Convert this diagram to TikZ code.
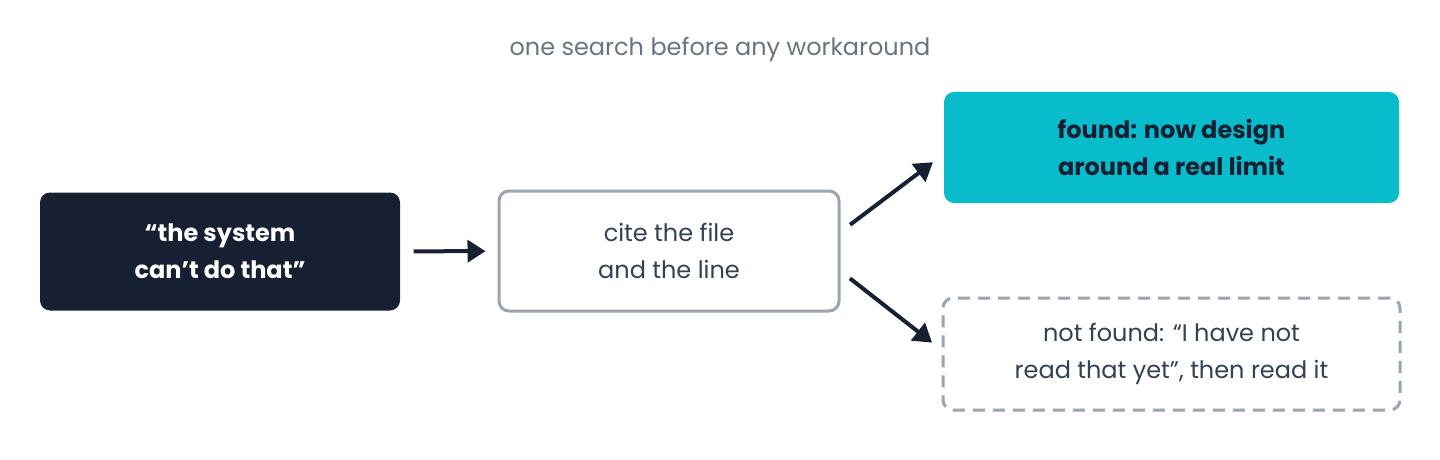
\documentclass[tikz,border=0pt]{standalone}
\usepackage{fontspec}
\setmainfont{Poppins}
\usepackage{tikz}
\usetikzlibrary{arrows.meta}
\definecolor{ink}{HTML}{162032}
\definecolor{teal}{HTML}{08BCCC}
\definecolor{edge}{HTML}{9AA5B1}
\definecolor{muted}{HTML}{6B7280}
\definecolor{body}{HTML}{334155}
\tikzset{box/.style={rounded corners=5pt,minimum height=59pt,align=center,font=\fontsize{12}{18.5}\selectfont,line width=1.5pt},
         flow/.style={-{Triangle[length=9pt,width=11pt]},line width=2pt,draw=ink,shorten <=6pt,shorten >=6pt}}
\begin{document}
\begin{tikzpicture}[x=0.5pt,y=-0.5pt]
\useasboundingbox (0,0) rectangle (1440,460);
\node[text=muted,font=\fontsize{12}{14}\selectfont] (title) at (720,49) {one search before any workaround};
\node[box,fill=ink,text=white,minimum width=180pt,font=\fontsize{12}{18.5}\selectfont\bfseries] (claim) at (220,251.5) {“the system\\can’t do that”};
\node[box,draw=edge,fill=white,text=body,minimum width=170pt,minimum height=60pt] (cite) at (669,251) {cite the file\\and the line};
\node[box,fill=teal,text=ink,minimum width=227.5pt,minimum height=55.5pt,font=\fontsize{12}{18.5}\selectfont\bfseries] (found) at (1171.5,147.5) {found: now design\\around a real limit};
\node[box,draw=edge,dashed,dash pattern=on 6pt off 4pt,fill=white,text=body,minimum width=228.5pt,minimum height=56pt] (notfound) at (1171.5,354) {not found: “I have not\\read that yet”, then read it};

\draw[flow] (claim) -- (cite);
\draw[flow] (cite.east |- 0,232) -- (found.west |- 0,155);
\draw[flow] (cite.east |- 0,271) -- (notfound.west |- 0,350);
\end{tikzpicture}
\end{document}
